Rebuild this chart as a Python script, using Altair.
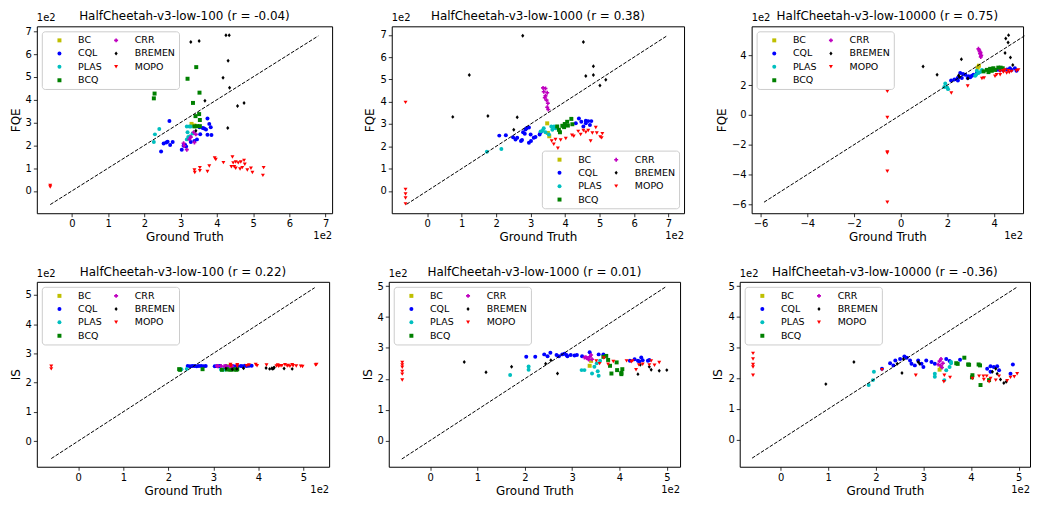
import altair as alt
import pandas as pd

FONT = "DejaVu Sans"
METHODS = ["BC", "CQL", "PLAS", "BCQ", "CRR", "BREMEN", "MOPO"]
COLOR = {"BC": "#bfbf00", "CQL": "#0000ff", "PLAS": "#00bfbf", "BCQ": "#008000",
         "CRR": "#bf00bf", "BREMEN": "#000000", "MOPO": "#ff0000"}
SHAPE = {"BC": "square", "CQL": "circle", "PLAS": "circle", "BCQ": "square",
         "CRR": "cross", "BREMEN": "M0,-1L0.8,0L0,1L-0.8,0Z", "MOPO": "triangle-down"}
SIZE = {"BC": 16, "CQL": 16, "PLAS": 22, "BCQ": 26, "CRR": 22, "BREMEN": 32, "MOPO": 26}

# ---------------- FQE, dataset 100 (ground truth, estimate), units of 1e2 -------------
FQE100_BC = [(3.30, 2.94), (3.38, 2.87)]
FQE100_CQL = [(2.69, 3.07), (2.46, 1.73), (2.53, 2.08), (2.60, 2.12), (2.64, 2.16), (2.71, 2.01),
              (2.78, 2.15), (3.03, 1.81), (3.08, 1.98), (3.12, 2.02), (3.15, 1.95), (3.74, 3.18),
              (3.79, 2.94), (3.83, 2.79), (3.70, 2.69), (3.85, 2.45), (3.74, 2.46), (3.65, 2.74),
              (3.61, 2.76), (3.52, 2.79), (3.54, 2.49), (3.38, 2.19), (3.45, 2.26), (3.28, 2.15)]
FQE100_PLAS = [(2.41, 2.72), (2.29, 2.48), (2.26, 2.15), (3.17, 2.83), (3.24, 2.83), (3.28, 2.83),
               (3.19, 2.57), (3.21, 2.36), (3.26, 2.40), (3.33, 2.52), (3.17, 2.26)]
FQE100_BCQ = [(2.28, 4.27), (2.26, 4.06), (3.43, 5.43), (3.19, 4.92), (3.52, 4.31), (3.34, 3.86),
              (3.41, 3.28), (3.51, 3.37), (3.53, 3.11), (3.45, 2.84), (3.53, 2.84), (3.38, 2.83)]
FQE100_CRR = [(3.08, 2.09), (3.17, 1.81), (3.28, 2.36), (3.36, 2.57), (3.42, 2.48), (3.24, 2.26),
              (3.38, 2.12), (3.10, 1.98)]
FQE100_BREMEN = [(3.28, 6.53), (3.51, 6.58), (4.25, 6.83), (4.34, 6.83), (4.31, 5.71), (4.17, 4.96),
                 (4.35, 4.53), (3.67, 3.95), (4.57, 3.72), (4.75, 3.86), (4.30, 2.76), (3.42, 2.64)]
FQE100_MOPO = [(-0.60, 0.24), (-0.60, 0.17), (3.38, 0.92), (3.39, 0.81), (3.53, 1.02), (3.53, 0.88),
               (3.74, 0.85), (3.79, 1.09), (3.94, 1.44), (3.97, 1.38), (4.18, 1.24), (4.43, 1.49),
               (4.45, 1.23), (4.52, 1.27), (4.59, 1.23), (4.66, 1.27), (4.75, 1.34), (4.77, 1.17),
               (4.70, 1.02), (4.64, 0.96), (4.40, 1.06), (4.52, 0.99), (4.84, 0.92), (4.94, 0.99),
               (4.98, 0.81), (5.29, 1.02), (5.27, 0.68), (4.48, 1.06)]

# ---------------- FQE, dataset 1000 ----------------
FQE1000_BC = [(3.48, 3.03), (3.54, 2.45), (3.50, 2.60)]
FQE1000_CQL = [(2.09, 2.48), (2.28, 2.50), (2.49, 2.41), (2.56, 2.31), (2.75, 2.28), (2.78, 2.63),
               (2.88, 2.81), (2.95, 2.84), (3.00, 2.53), (3.09, 2.38), (3.14, 2.42), (3.01, 2.24),
               (2.95, 2.16), (2.72, 2.24), (2.61, 2.38), (3.29, 2.63), (3.26, 2.53), (4.40, 3.25),
               (4.47, 3.10), (4.60, 3.03), (4.67, 3.13), (4.76, 3.13), (4.53, 2.89), (4.60, 3.15),
               (4.31, 3.03), (4.72, 2.96), (2.85, 2.75), (2.83, 2.56)]
FQE1000_PLAS = [(1.73, 1.76), (2.15, 1.88), (3.29, 2.67), (3.35, 2.71), (3.43, 2.63), (3.53, 2.53),
                (3.60, 2.89), (3.68, 2.89), (3.63, 2.74), (3.72, 2.81), (3.38, 2.81)]
FQE1000_BCQ = [(3.77, 2.89), (3.85, 2.63), (3.92, 2.92), (3.99, 3.00), (4.06, 3.10), (4.08, 2.93),
               (4.18, 3.23), (4.21, 2.99), (3.97, 2.86), (3.82, 2.74)]
FQE1000_CRR = [(3.36, 4.62), (3.43, 4.59), (3.38, 4.45), (3.48, 4.40), (3.43, 4.26), (3.46, 4.07),
               (3.50, 3.93), (3.48, 3.75), (3.51, 3.65), (3.41, 4.18)]
FQE1000_BREMEN = [(2.77, 6.96), (4.53, 6.68), (1.22, 5.20), (4.82, 5.59), (4.82, 5.20), (4.60, 5.15),
                  (5.18, 4.98), (5.01, 4.73), (0.74, 3.32), (1.76, 3.36), (2.61, 3.30), (2.51, 2.74)]
FQE1000_MOPO = [(-0.63, 3.97), (-0.63, 0.07), (-0.63, -0.14), (-0.63, -0.32), (-0.63, -0.58),
                (4.38, 2.67), (4.45, 2.53), (4.53, 2.71), (4.60, 2.63), (4.67, 2.71), (4.74, 2.24),
                (4.89, 2.84), (4.92, 2.60), (5.02, 2.42), (5.08, 2.57), (5.06, 2.38), (3.61, 2.24),
                (3.72, 2.31), (3.87, 2.28), (4.02, 2.35), (3.79, 1.91), (3.67, 2.09), (4.79, 2.60),
                (4.20, 2.50), (4.25, 2.45)]

# ---------------- FQE, dataset 10000 ----------------
FQE10000_BC = [(3.35, 3.30), (3.30, 3.17)]
FQE10000_CQL = [(2.16, 2.31), (2.30, 2.38), (2.44, 2.48), (2.55, 2.81), (2.67, 2.74), (2.77, 2.70),
                (2.87, 2.48), (2.98, 2.53), (3.12, 2.70), (3.26, 2.81), (2.62, 2.48), (2.91, 2.59),
                (4.11, 3.02), (4.40, 3.02), (4.68, 3.13), (4.89, 3.13), (4.96, 2.96), (4.75, 3.02),
                (2.45, 2.31), (3.05, 2.62), (4.55, 3.05), (4.25, 3.00)]
FQE10000_PLAS = [(1.91, 2.10), (1.99, 1.84), (1.87, 1.88), (2.03, 1.73), (3.26, 2.96), (3.33, 2.81),
                 (3.40, 2.87), (3.23, 2.70), (3.48, 3.02), (3.19, 2.63)]
FQE10000_BCQ = [(3.55, 2.92), (3.69, 3.02), (3.83, 3.09), (3.97, 3.13), (4.04, 3.02), (4.18, 3.17),
                (4.28, 3.17), (4.37, 3.13), (3.76, 2.87), (3.90, 2.96)]
FQE10000_CRR = [(3.33, 4.43), (3.38, 4.25), (3.40, 4.10), (3.45, 4.00), (3.43, 3.89), (3.36, 4.35),
                (3.42, 4.18)]
FQE10000_BREMEN = [(0.96, 3.24), (1.56, 2.70), (2.60, 3.74), (2.48, 2.64), (2.88, 2.44), (2.52, 2.55),
                   (4.50, 5.12), (4.62, 5.35), (4.60, 4.85), (4.47, 4.15), (4.70, 3.85), (4.80, 3.35)]
FQE10000_MOPO = [(-0.57, 1.58), (-0.57, -0.17), (-0.57, -2.48), (-0.57, -2.55), (-0.57, -3.78),
                 (-0.57, -5.85), (2.17, 1.47), (2.87, 1.94), (3.48, 2.44), (3.57, 2.48), (4.04, 2.59),
                 (4.11, 2.70), (4.26, 2.92), (4.37, 2.96), (4.47, 3.02), (4.61, 2.96), (4.54, 2.81),
                 (4.40, 2.87), (4.96, 2.96), (5.04, 3.02), (4.26, 2.70), (4.65, 2.85), (4.75, 2.92)]

# ---------------- IS, dataset 100 ----------------
IS100_BC = [(3.30, 2.56), (3.38, 2.56)]
IS100_CQL = [(2.43, 2.57), (2.48, 2.56), (2.53, 2.57), (2.58, 2.57), (2.63, 2.56), (2.68, 2.57),
             (2.73, 2.57), (2.78, 2.56), (2.83, 2.57), (3.03, 2.56), (3.08, 2.57), (3.12, 2.56),
             (3.15, 2.57), (3.28, 2.56), (3.38, 2.57), (3.45, 2.56), (3.52, 2.57), (3.54, 2.56),
             (3.61, 2.57), (3.65, 2.56), (3.70, 2.58), (3.74, 2.57), (3.79, 2.58), (3.85, 2.58)]
IS100_PLAS = [(2.26, 2.44), (2.29, 2.46), (2.41, 2.47), (3.17, 2.45), (3.19, 2.46), (3.21, 2.44),
              (3.24, 2.47), (3.26, 2.45), (3.28, 2.46), (3.33, 2.47)]
IS100_BCQ = [(2.24, 2.46), (2.26, 2.44), (2.76, 2.46), (3.19, 2.44), (3.30, 2.45), (3.34, 2.46),
             (3.38, 2.44), (3.41, 2.46), (3.45, 2.45), (3.51, 2.44), (3.53, 2.46)]
IS100_CRR = [(3.08, 2.57), (3.10, 2.56), (3.17, 2.57), (3.24, 2.56), (3.28, 2.57), (3.36, 2.56),
             (3.38, 2.57), (3.42, 2.56)]
IS100_BREMEN = [(3.28, 2.48), (3.42, 2.46), (3.52, 2.47), (3.67, 2.49), (4.17, 2.50), (4.25, 2.47),
                (4.30, 2.49), (4.32, 2.47), (4.35, 2.52), (4.57, 2.48), (4.75, 2.47), (4.34, 2.50)]
IS100_MOPO = [(-0.60, 2.56), (-0.60, 2.47), (3.38, 2.62), (3.39, 2.57), (3.53, 2.61), (3.53, 2.56),
              (3.74, 2.58), (3.79, 2.60), (3.94, 2.62), (3.97, 2.58), (4.18, 2.60), (4.40, 2.57),
              (4.43, 2.60), (4.45, 2.56), (4.48, 2.58), (4.52, 2.58), (4.59, 2.61), (4.64, 2.57),
              (4.66, 2.59), (4.70, 2.56), (4.75, 2.61), (4.77, 2.58), (4.84, 2.57), (4.94, 2.56),
              (4.98, 2.55), (5.27, 2.60), (5.29, 2.62)]

# ---------------- IS, dataset 1000 ----------------
IS1000_BC = [(3.37, 2.42), (3.40, 2.58)]
IS1000_CQL = [(2.03, 2.71), (2.22, 2.71), (2.41, 2.79), (2.54, 2.84), (2.48, 2.73), (2.67, 2.77),
              (2.72, 2.73), (2.79, 2.79), (2.84, 2.81), (2.88, 2.77), (2.90, 2.73), (2.97, 2.77),
              (3.05, 2.75), (3.10, 2.77), (3.21, 2.73), (3.37, 2.86), (3.56, 2.79), (3.66, 2.79),
              (4.22, 2.58), (4.32, 2.63), (4.39, 2.58), (4.46, 2.69), (4.49, 2.60), (4.42, 2.56),
              (4.60, 2.58), (4.63, 2.61)]
IS1000_PLAS = [(1.69, 2.12), (2.08, 2.40), (2.08, 2.29), (3.20, 2.28), (3.26, 2.28), (3.47, 2.39),
               (3.42, 2.17), (3.54, 2.24), (3.56, 2.10), (3.59, 2.58), (3.52, 2.50)]
IS1000_BCQ = [(3.66, 2.71), (3.72, 2.74), (3.80, 2.42), (3.83, 2.17), (3.94, 2.53), (3.95, 2.28),
              (4.04, 2.19), (4.06, 2.31), (4.04, 2.15), (3.76, 2.61)]
IS1000_CRR = [(3.26, 2.69), (3.31, 2.67), (3.37, 2.71), (3.40, 2.77), (3.42, 2.63), (3.35, 2.62),
              (3.29, 2.70)]
IS1000_BREMEN = [(0.72, 2.54), (1.18, 2.21), (1.72, 2.39), (2.44, 2.49), (2.55, 2.60), (2.69, 2.17),
                 (4.39, 2.15), (4.44, 2.45), (4.63, 2.39), (4.67, 2.29), (4.84, 2.26), (5.00, 2.28)]
IS1000_MOPO = [(-0.59, 2.53), (-0.59, 2.45), (-0.59, 2.37), (-0.59, 2.24), (-0.59, 2.15), (-0.59, 1.96),
               (3.51, 2.58), (3.58, 2.49), (3.67, 2.67), (3.76, 2.47), (3.87, 2.56), (4.15, 2.58),
               (4.25, 2.55), (4.35, 2.29), (4.41, 2.45), (4.49, 2.47), (4.63, 2.45), (4.74, 2.44),
               (4.84, 2.53), (4.67, 2.58), (4.28, 2.58)]

# ---------------- IS, dataset 10000 ----------------
IS10000_BC = [(3.34, 2.28), (3.37, 2.37)]
IS10000_CQL = [(2.13, 2.31), (2.30, 2.49), (2.41, 2.58), (2.51, 2.63), (2.60, 2.71), (2.65, 2.67),
               (2.72, 2.58), (2.75, 2.47), (2.82, 2.42), (2.89, 2.58), (2.96, 2.47), (3.00, 2.37),
               (3.06, 2.58), (3.17, 2.53), (3.24, 2.47), (3.48, 2.63), (3.55, 2.56), (4.34, 2.31),
               (4.41, 2.39), (4.48, 2.37), (4.55, 2.39), (4.59, 2.26), (4.83, 2.15), (4.88, 2.45),
               (4.41, 2.21), (2.37, 2.42), (3.77, 2.60)]
IS10000_PLAS = [(1.85, 1.78), (1.96, 2.21), (1.94, 1.94), (3.24, 2.15), (3.24, 2.05), (3.44, 1.94),
                (3.48, 2.26), (3.55, 2.37), (3.58, 2.53), (3.58, 2.49)]
IS10000_BCQ = [(3.69, 2.49), (3.72, 2.47), (3.86, 2.67), (3.94, 2.45), (3.96, 2.44), (4.16, 2.45),
               (4.19, 2.42), (4.38, 1.94), (4.20, 1.78), (4.03, 2.10), (4.02, 2.03)]
IS10000_CRR = [(3.34, 2.56), (3.37, 2.63), (3.41, 2.49), (3.36, 2.42), (3.31, 2.45), (3.39, 2.35)]
IS10000_BREMEN = [(0.95, 1.81), (1.54, 2.53), (2.45, 2.47), (2.58, 2.63), (2.55, 2.17), (2.89, 2.53),
                  (2.92, 2.47), (4.45, 2.21), (4.52, 2.31), (4.55, 2.15), (4.62, 1.96), (4.69, 1.85),
                  (4.74, 1.89)]
IS10000_MOPO = [(-0.58, 2.81), (-0.58, 2.63), (-0.58, 2.45), (-0.58, 2.37), (-0.58, 2.10), (2.13, 2.28),
                (2.84, 2.10), (3.44, 2.10), (3.56, 2.03), (3.43, 1.89), (4.03, 1.99), (4.17, 2.07),
                (4.26, 2.07), (4.27, 1.96), (4.33, 2.07), (4.41, 1.99), (4.38, 1.89), (4.52, 1.94),
                (4.59, 2.07), (4.76, 1.92), (4.83, 2.03), (4.97, 2.15), (4.91, 2.05)]

TITLES = ["HalfCheetah-v3-low-100 (r = -0.04)", "HalfCheetah-v3-low-1000 (r = 0.38)",
          "HalfCheetah-v3-low-10000 (r = 0.75)", "HalfCheetah-v3-low-100 (r = 0.22)",
          "HalfCheetah-v3-low-1000 (r = 0.01)", "HalfCheetah-v3-low-10000 (r = -0.36)"]
TICKS_0_7 = [0, 1, 2, 3, 4, 5, 6, 7]
TICKS_0_5 = [0, 1, 2, 3, 4, 5]
TICKS_NEG = [-6, -4, -2, 0, 2, 4]
# y = x reference line end points
DIAG = [(-0.6, 6.8), (-0.6, 6.95), (-5.85, 5.3), (-0.6, 5.25), (-0.6, 4.97), (-0.6, 4.97)]


def group(prefix):
    g = globals()
    return {m: g[f"{prefix}_{m}"] for m in METHODS}


def panel(title, ylabel, pts, xdom, ydom, xt, yt, diag, orient, w, h):
    rows = [{"gt": x, "est": y, "method": m} for m in METHODS for (x, y) in pts[m]]
    df = pd.DataFrame(rows)
    leg = alt.Legend(title=None, orient=orient, offset=5, columns=2, columnPadding=-4,
                     gridAlign="each", rowPadding=2.5, labelFontSize=9.5, labelFont=FONT,
                     labelColor="black", labelOffset=14, padding=4, symbolOffset=9,
                     strokeColor="#cccccc", cornerRadius=3,
                     fillColor="rgba(255,255,255,0.85)", symbolStrokeWidth=0)
    xs = alt.Scale(domain=xdom, nice=False, zero=False)
    ys = alt.Scale(domain=ydom, nice=False, zero=False)
    xax = alt.Axis(values=xt, format="d", title="Ground Truth", labelOverlap=False)
    yax = alt.Axis(values=yt, format="d", title=ylabel, labelOverlap=False)
    pts_layer = alt.Chart(df).mark_point(filled=True, opacity=1, strokeWidth=0).encode(
        x=alt.X("gt:Q", scale=xs, axis=xax),
        y=alt.Y("est:Q", scale=ys, axis=yax),
        color=alt.Color("method:N", scale=alt.Scale(domain=METHODS,
                        range=[COLOR[m] for m in METHODS]), legend=leg),
        shape=alt.Shape("method:N", scale=alt.Scale(domain=METHODS,
                        range=[SHAPE[m] for m in METHODS]), legend=leg),
        size=alt.Size("method:N", scale=alt.Scale(domain=METHODS,
                      range=[SIZE[m] for m in METHODS]), legend=leg),
    )
    line = alt.Chart(pd.DataFrame({"gt": list(diag), "est": list(diag)})).mark_line(
        color="black", strokeWidth=1, strokeDash=[3.7, 1.6]).encode(
        x=alt.X("gt:Q", scale=xs, axis=xax), y=alt.Y("est:Q", scale=ys, axis=yax))
    lab = pd.DataFrame({"t": ["1e2"]})
    top = alt.Chart(lab).mark_text(align="left", baseline="bottom", fontSize=10, font=FONT,
                                   color="black").encode(
        x=alt.value(0), y=alt.value(-3), text="t:N")
    bot = alt.Chart(lab).mark_text(align="right", baseline="middle", fontSize=10, font=FONT,
                                   color="black").encode(
        x=alt.value(w), y=alt.value(h + 23), text="t:N")
    ttl = alt.Chart(pd.DataFrame({"t": [title]})).mark_text(
        align="center", baseline="bottom", fontSize=12, font=FONT, color="black").encode(
        x=alt.value(w / 2), y=alt.value(-3), text="t:N")
    return alt.layer(pts_layer, line, top, bot, ttl).properties(width=w, height=h)


specs = [
    (TITLES[0], "FQE", group("FQE100"), [-0.97, 7.18], [-0.98, 7.22], TICKS_0_7, TICKS_0_7, DIAG[0], "top-left", 297, 188),
    (TITLES[1], "FQE", group("FQE1000"), [-1.03, 7.45], [-1.0, 7.38], TICKS_0_7, TICKS_0_7, DIAG[1], "bottom-right", 294, 188),
    (TITLES[2], "FQE", group("FQE10000"), [-6.38, 5.24], [-6.59, 5.94], TICKS_NEG, TICKS_NEG, DIAG[2], "top-left", 273, 188),
    (TITLES[3], "IS", group("IS100"), [-0.92, 5.57], [-0.88, 5.45], TICKS_0_5, TICKS_0_5, DIAG[3], "top-left", 294, 186),
    (TITLES[4], "IS", group("IS1000"), [-0.875, 5.28], [-0.85, 5.14], TICKS_0_5, TICKS_0_5, DIAG[4], "top-left", 293, 186),
    (TITLES[5], "IS", group("IS10000"), [-0.86, 5.24], [-0.88, 5.14], TICKS_0_5, TICKS_0_5, DIAG[5], "top-left", 292, 186),
]

panels = [panel(*s) for s in specs]

ind = dict(color="independent", shape="independent", size="independent")
row1 = alt.hconcat(*panels[:3], spacing=30).resolve_scale(**ind).resolve_legend(**ind)
row2 = alt.hconcat(*panels[3:], spacing=30).resolve_scale(**ind).resolve_legend(**ind)
chart = alt.vconcat(row1, row2, spacing=22).resolve_scale(**ind).resolve_legend(**ind).properties(
    padding=0
).configure(font=FONT).configure_view(stroke="black", strokeWidth=1).configure_axis(
    grid=False, domain=False, tickColor="black", tickSize=3.5, tickWidth=0.8,
    labelFontSize=10, labelFont=FONT, labelColor="black", labelPadding=2,
    titleFontSize=12, titleFont=FONT, titleColor="black", titleFontWeight="normal"
).configure_axisX(titlePadding=3).configure_axisY(titlePadding=3)

chart.save("out.html", embed_options={"renderer": "svg", "actions": False})
